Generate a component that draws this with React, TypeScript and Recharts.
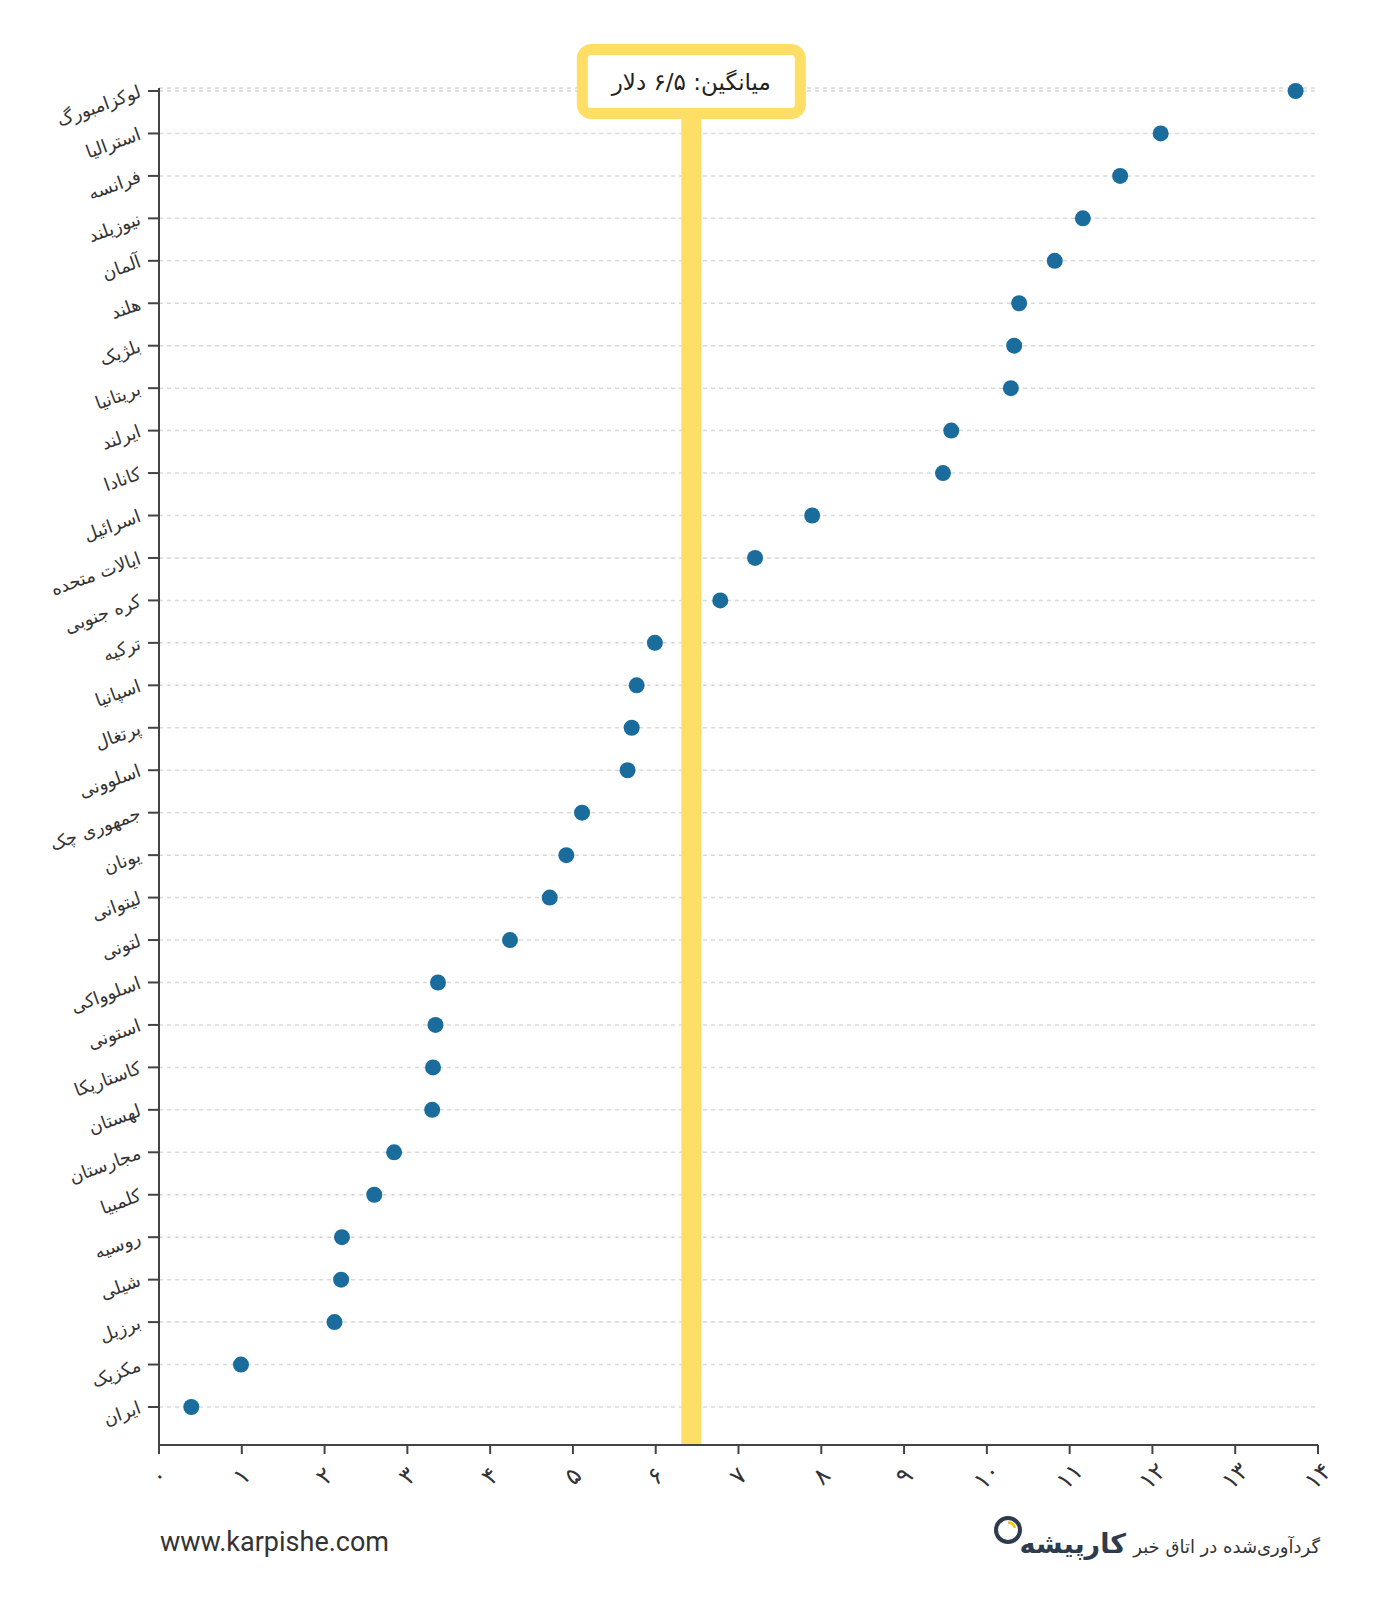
import React from "react";
import {
  ScatterChart,
  Scatter,
  XAxis,
  YAxis,
  CartesianGrid,
  ReferenceLine,
} from "recharts";

const COUNTRIES = [
  "لوکزامبورگ",
  "استرالیا",
  "فرانسه",
  "نیوزیلند",
  "آلمان",
  "هلند",
  "بلژیک",
  "بریتانیا",
  "ایرلند",
  "کانادا",
  "اسرائیل",
  "ایالات متحده",
  "کره جنوبی",
  "ترکیه",
  "اسپانیا",
  "پرتغال",
  "اسلوونی",
  "جمهوری چک",
  "یونان",
  "لیتوانی",
  "لتونی",
  "اسلوواکی",
  "استونی",
  "کاستاریکا",
  "لهستان",
  "مجارستان",
  "کلمبیا",
  "روسیه",
  "شیلی",
  "برزیل",
  "مکزیک",
  "ایران",
];

const PRICES = [
  13.73, 12.1, 11.61, 11.16, 10.82, 10.39, 10.33, 10.29, 9.57, 9.47, 7.89,
  7.2, 6.78, 5.99, 5.77, 5.71, 5.66, 5.11, 4.92, 4.72, 4.24, 3.37, 3.34, 3.31,
  3.3, 2.84, 2.6, 2.21, 2.2, 2.12, 0.99, 0.39,
];

const X_TICKS = [0, 1, 2, 3, 4, 5, 6, 7, 8, 9, 10, 11, 12, 13, 14];

const MEAN_POSITION = 6.43;
const MEAN_LABEL = "میانگین: ۶/۵ دلار";

const data = COUNTRIES.map((name, i) => ({ name, value: PRICES[i] }));

const PERSIAN = ["۰", "۱", "۲", "۳", "۴", "۵", "۶", "۷", "۸", "۹"];
const toPersian = (v: number | string) =>
  String(v).replace(/[0-9]/g, (d) => PERSIAN[Number(d)]);

const FONT = "'DejaVu Sans', sans-serif";
const DOT = "#1a6c9c";
const YELLOW = "#FFDE66";

const XTick = (props: any) => {
  const { x, y, payload } = props;
  const cy = y + 20;
  return (
    <text
      x={x}
      y={cy}
      textAnchor="middle"
      dominantBaseline="central"
      transform={`rotate(-45, ${x}, ${cy})`}
      fontFamily={FONT}
      fontSize={24}
      fill="#333"
    >
      {toPersian(payload.value)}
    </text>
  );
};

const YTick = (props: any) => {
  const { x, y, payload } = props;
  const ax = x - 6;
  return (
    <text
      x={ax}
      y={y}
      dy={6}
      textAnchor="end"
      transform={`rotate(-20, ${ax}, ${y})`}
      fontFamily={FONT}
      fontSize={18}
      fill="#333"
    >
      {payload.value}
    </text>
  );
};

const MeanLabel = (props: any) => {
  const vb = props.viewBox || {};
  const cx = vb.x;
  const top = vb.y;
  return (
    <g>
      <rect
        x={cx - 109}
        y={top - 38.5}
        width={218}
        height={64}
        rx={9}
        ry={9}
        fill="#fff"
        stroke={YELLOW}
        strokeWidth={11}
      />
      <text
        x={cx}
        y={top - 6}
        textAnchor="middle"
        dominantBaseline="central"
        fontFamily={FONT}
        fontSize={23}
        fill="#222"
        direction="rtl"
      >
        {MEAN_LABEL}
      </text>
    </g>
  );
};

const Dot = (props: any) => (
  <circle cx={props.cx} cy={props.cy} r={8} fill={DOT} />
);

export default function App() {
  return (
    <div
      style={{
        position: "absolute",
        left: 0,
        top: 0,
        width: 1378,
        height: 1600,
        background: "#fff",
      }}
    >
      <ScatterChart
        width={1378}
        height={1600}
        margin={{ top: 88, right: 60, bottom: 95, left: 9 }}
      >
        <CartesianGrid
          vertical={false}
          strokeDasharray="4 4"
          stroke="#d9d9d9"
          strokeWidth={1.5}
        />
        <XAxis
          type="number"
          dataKey="value"
          domain={[0, 14]}
          ticks={X_TICKS}
          interval={0}
          height={60}
          tickSize={9}
          tickMargin={2}
          axisLine={{ stroke: "#444", strokeWidth: 2 }}
          tickLine={{ stroke: "#444", strokeWidth: 2 }}
          tick={<XTick />}
        />
        <YAxis
          type="category"
          dataKey="name"
          scale="point"
          reversed
          width={150}
          padding={{ top: 3, bottom: 38 }}
          interval={0}
          tickSize={11}
          tickMargin={2}
          axisLine={{ stroke: "#444", strokeWidth: 2 }}
          tickLine={{ stroke: "#444", strokeWidth: 2 }}
          tick={<YTick />}
          allowDuplicatedCategory={false}
        />
        <ReferenceLine
          x={MEAN_POSITION}
          stroke={YELLOW}
          strokeWidth={20}
          ifOverflow="visible"
          label={<MeanLabel />}
        />
        <Scatter
          data={data}
          fill={DOT}
          shape={<Dot />}
          isAnimationActive={false}
        />
      </ScatterChart>

      <div
        style={{
          position: "absolute",
          left: 160,
          top: 1526,
          fontFamily: "Roboto, sans-serif",
          fontSize: 27,
          lineHeight: "32px",
          color: "#333",
        }}
      >
        www.karpishe.com
      </div>

      <div
        style={{
          position: "absolute",
          right: 58,
          top: 1535,
          fontFamily: FONT,
          fontSize: 18,
          lineHeight: "24px",
          color: "#333",
          direction: "rtl",
          whiteSpace: "nowrap",
        }}
      >
        گردآوری‌شده در اتاق خبر
      </div>

      <div
        style={{
          position: "absolute",
          right: 252,
          top: 1526,
          fontFamily: FONT,
          fontWeight: 700,
          fontSize: 27,
          lineHeight: "36px",
          color: "#2d3b4d",
          direction: "rtl",
          whiteSpace: "nowrap",
        }}
      >
        کارپیشه
      </div>
      <svg
        style={{ position: "absolute", left: 992, top: 1514 }}
        width={34}
        height={34}
      >
        <circle cx={16} cy={16} r={12} fill="none" stroke="#2d3b4d" strokeWidth={4} />
        <path d="M 16 8.5 A 7.5 7.5 0 0 1 23 14" fill="none" stroke="#f5c400" strokeWidth={2.5} />
      </svg>
    </div>
  );
}
